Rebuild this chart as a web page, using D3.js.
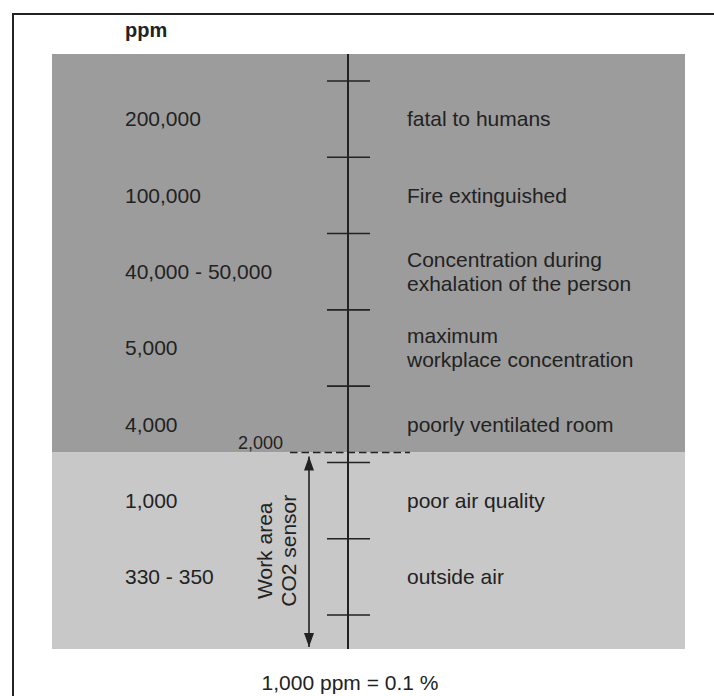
<!DOCTYPE html>
<html>
<head>
<meta charset="utf-8">
<script src="https://cdn.jsdelivr.net/npm/d3@7"></script>
<style>
  body { margin: 0; background: #fff; }
  svg text { font-family: "Liberation Sans", Arial, sans-serif; fill: #222; }
</style>
</head>
<body>
<svg width="714" height="696"></svg>
<script>
/*
Data: CO2 concentration levels, top (highest) to bottom
*/
var levels = ['200,000', '100,000', '40,000 - 50,000', '5,000', '4,000', '1,000', '330 - 350'];
var meanings = [
	['fatal to humans'],
	['Fire extinguished'],
	['Concentration during', 'exhalation of the person'],
	['maximum', 'workplace concentration'],
	['poorly ventilated room'],
	['poor air quality'],
	['outside air']
];
// levels above the sensor range (dark zone) vs. inside it (light zone)
var zoneOf = ['high', 'high', 'high', 'high', 'high', 'sensor', 'sensor'];
var sensorLimit = '2,000';
var sensorLabel = ['Work area', 'CO2 sensor'];
var unitLabel = 'ppm';
var footNote = '1,000 ppm = 0.1 %';

/*
Set up SVG
*/
var svg = d3.select('svg'),
	width = + svg.attr('width'),
	height = + svg.attr('height');

const darkColor = '#9c9c9c';
const lightColor = '#c8c8c8';
const inkColor = '#222';
const fontSize = 21;

var panel = {left: 52, right: 685, top: 54, bottom: 649};
var axisX = 348;

var y = d3.scaleBand()
	.domain(levels)
	.range([81, 615])
	.padding(0);

// the 2,000 line sits a little above the first tick of the sensor zone
var firstSensor = levels[zoneOf.indexOf('sensor')];
var limitY = y(firstSensor) - y.bandwidth() * 0.13;

// outer frame (runs off the right and bottom of the picture)
svg.append('rect')
	.attr('x', 13).attr('y', 14)
	.attr('width', 740).attr('height', 720)
	.attr('fill', 'none')
	.attr('stroke', inkColor)
	.attr('stroke-width', 2);

// zones
svg.append('rect')
	.attr('x', panel.left).attr('y', panel.top)
	.attr('width', panel.right - panel.left)
	.attr('height', limitY - panel.top)
	.attr('fill', darkColor);
svg.append('rect')
	.attr('x', panel.left).attr('y', limitY)
	.attr('width', panel.right - panel.left)
	.attr('height', panel.bottom - limitY)
	.attr('fill', lightColor);

// unit label
svg.append('text')
	.attr('x', 125).attr('y', 37)
	.attr('font-size', 20)
	.attr('font-weight', 'bold')
	.text(unitLabel);

// vertical scale line
svg.append('line')
	.attr('x1', axisX).attr('x2', axisX)
	.attr('y1', panel.top).attr('y2', panel.bottom)
	.attr('stroke', inkColor).attr('stroke-width', 2);

// ticks at every band edge
var edges = levels.map(function(d){ return y(d); });
edges.push(y.range()[1]);
svg.append('g')
	.selectAll('line')
	.data(edges)
	.enter().append('line')
		.attr('x1', axisX - 21).attr('x2', axisX + 22)
		.attr('y1', function(d){ return d; })
		.attr('y2', function(d){ return d; })
		.attr('stroke', inkColor).attr('stroke-width', 1.6);

// left labels: ppm values
svg.append('g')
	.selectAll('text')
	.data(levels)
	.enter().append('text')
		.attr('x', 125)
		.attr('y', function(d){ return y(d) + y.bandwidth() / 2; })
		.attr('dy', '0.35em')
		.attr('font-size', fontSize)
		.text(function(d){ return d; });

// right labels: meaning, possibly two lines
var right = svg.append('g')
	.selectAll('text')
	.data(meanings)
	.enter().append('text')
		.attr('x', 407)
		.attr('y', function(d, i){ return y(levels[i]) + y.bandwidth() / 2 - (d.length - 1) * 12; })
		.attr('font-size', fontSize);
right.selectAll('tspan')
	.data(function(d){ return d; })
	.enter().append('tspan')
		.attr('x', 407)
		.attr('dy', function(d, i){ return i == 0 ? '0.35em' : 24; })
		.text(function(d){ return d; });

// 2,000 limit: dashed line and label
svg.append('line')
	.attr('x1', 290).attr('x2', 410)
	.attr('y1', limitY).attr('y2', limitY)
	.attr('stroke', inkColor).attr('stroke-width', 1.6)
	.attr('stroke-dasharray', '7.5,4');
svg.append('text')
	.attr('x', 283).attr('y', limitY - 4)
	.attr('text-anchor', 'end')
	.attr('font-size', 18)
	.text(sensorLimit);

// sensor range arrow
var defs = svg.append('defs');
defs.append('marker')
	.attr('id', 'head')
	.attr('viewBox', '0 0 14 10')
	.attr('refX', 14).attr('refY', 5)
	.attr('markerWidth', 14).attr('markerHeight', 10)
	.attr('markerUnits', 'userSpaceOnUse')
	.attr('orient', 'auto-start-reverse')
	.append('path')
		.attr('d', 'M0,0 L14,5 L0,10 Z')
		.attr('fill', inkColor);

var arrowX = 309;
svg.append('line')
	.attr('x1', arrowX).attr('x2', arrowX)
	.attr('y1', limitY + 4).attr('y2', panel.bottom - 2)
	.attr('stroke', inkColor).attr('stroke-width', 1.6)
	.attr('marker-start', 'url(#head)')
	.attr('marker-end', 'url(#head)');

// rotated sensor label
var midY = (limitY + panel.bottom) / 2;
svg.append('text')
	.attr('transform', 'translate(' + 272 + ',' + midY + ') rotate(-90)')
	.attr('text-anchor', 'middle')
	.attr('font-size', fontSize)
	.selectAll('tspan')
	.data(sensorLabel)
	.enter().append('tspan')
		.attr('x', 0)
		.attr('y', function(d, i){ return i * 24; })
		.text(function(d){ return d; });

// footnote
svg.append('text')
	.attr('x', 350).attr('y', 690)
	.attr('text-anchor', 'middle')
	.attr('font-size', fontSize)
	.text(footNote);
</script>
</body>
</html>
